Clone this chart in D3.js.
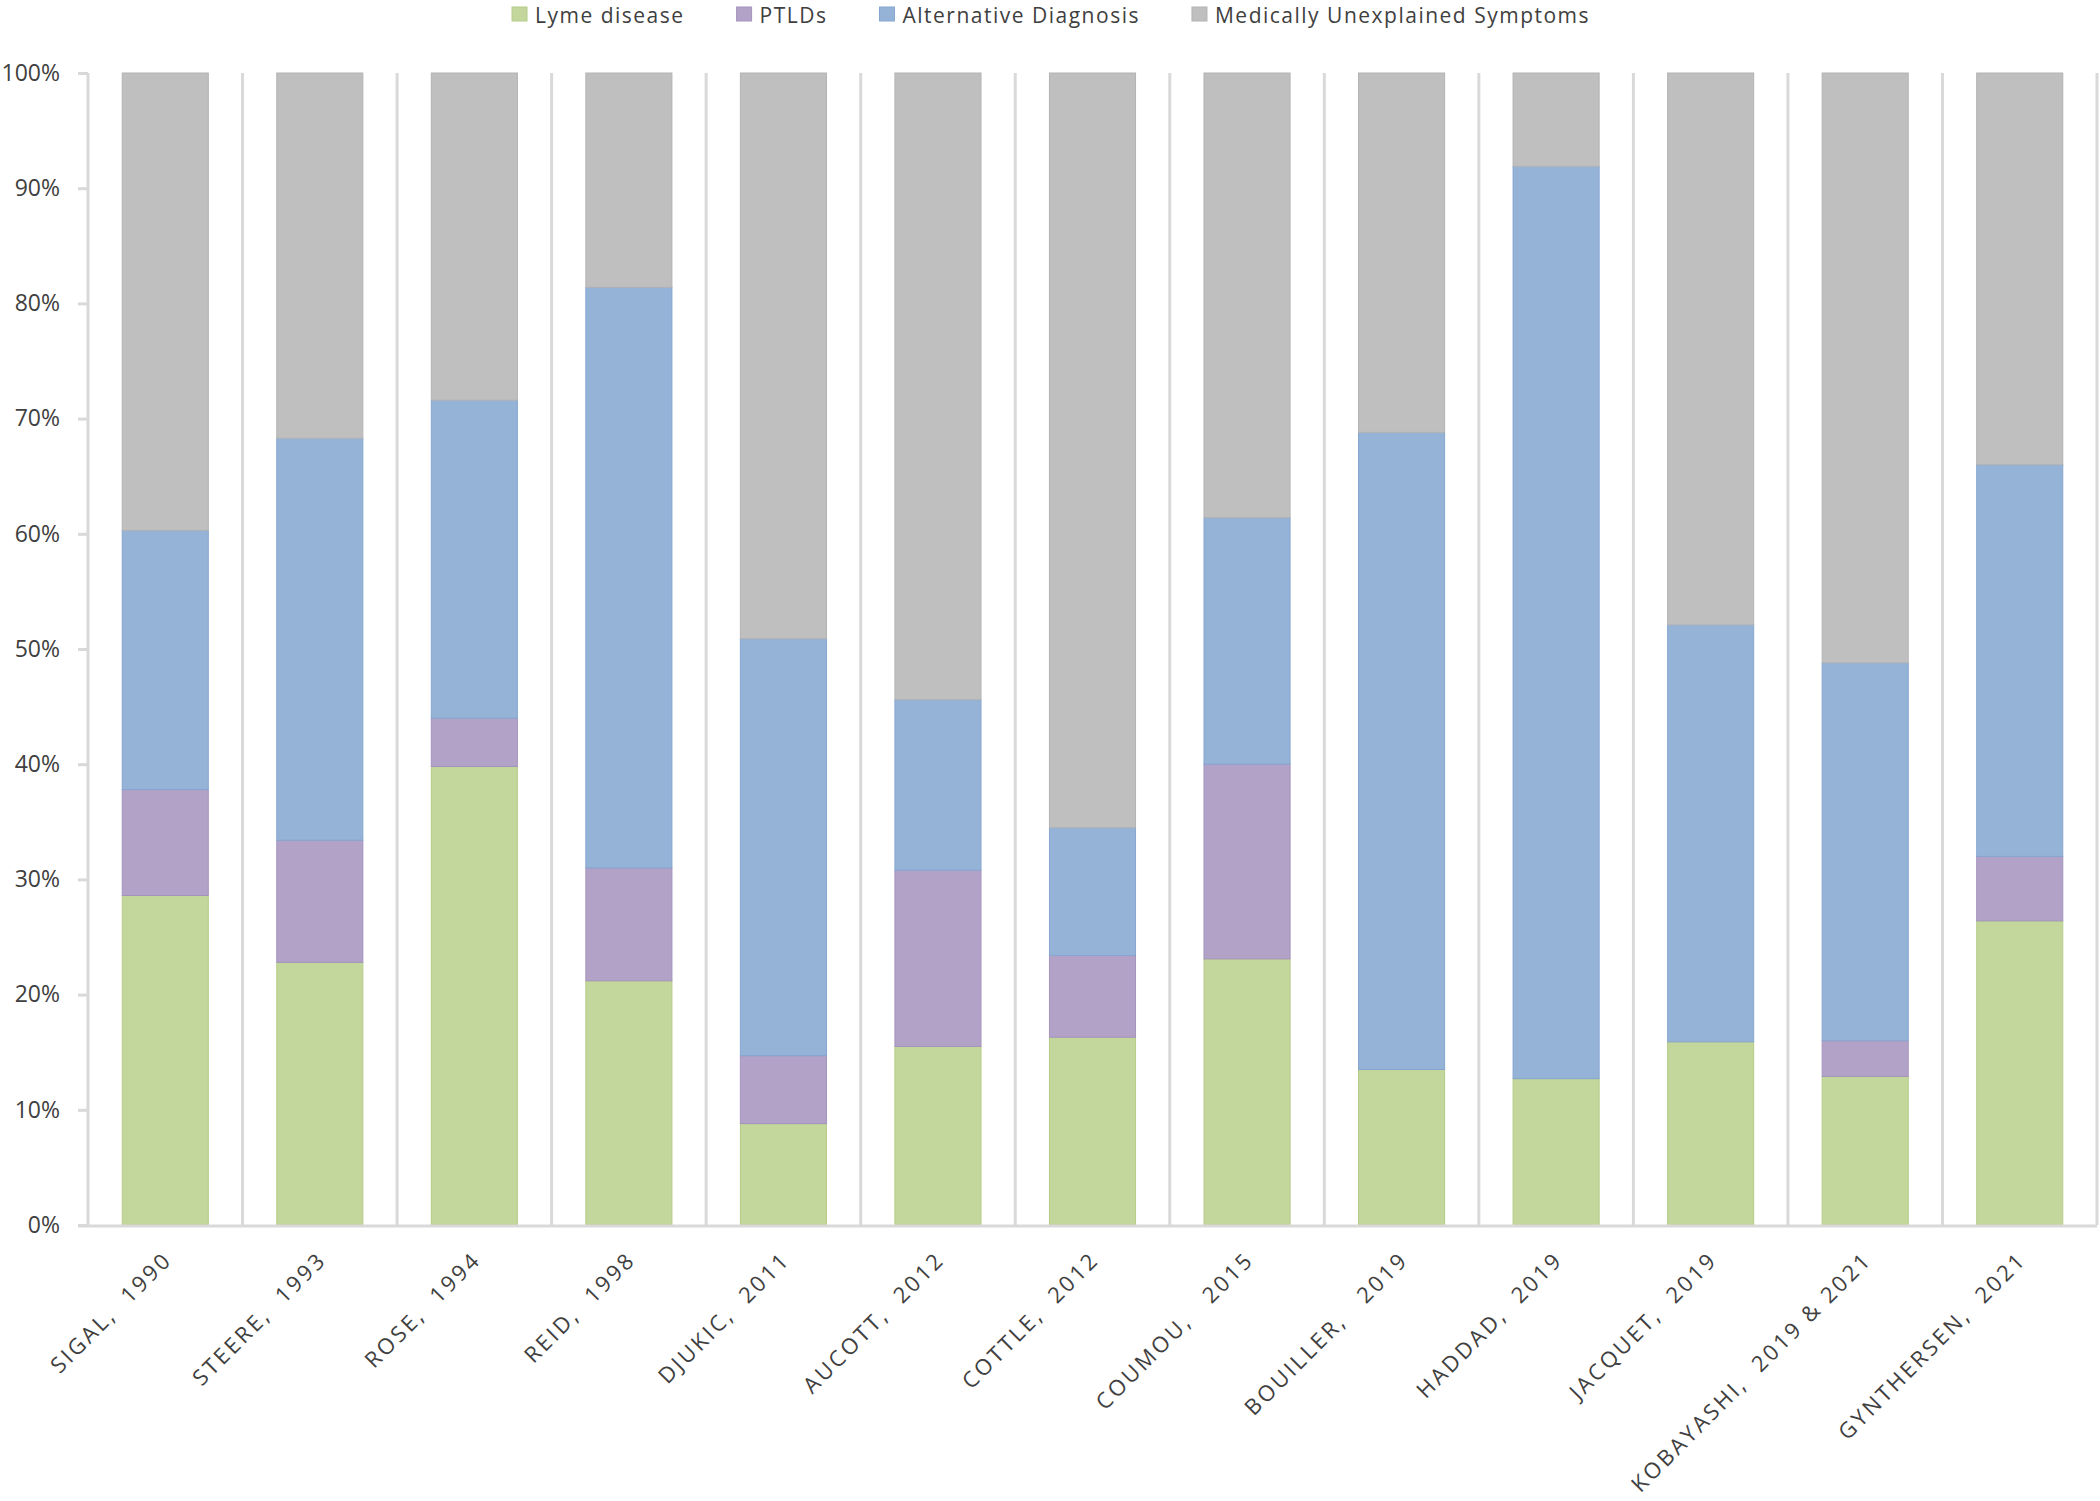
<!DOCTYPE html>
<html>
<head>
<meta charset="utf-8">
<script src="https://cdn.jsdelivr.net/npm/d3@7"></script>
<style>
  html, body { margin: 0; padding: 0; background: #ffffff; }
  svg { display: block; }
  text { font-family: "Open Sans", "Noto Sans", sans-serif; fill: #404040; }
</style>
</head>
<body>
<svg id="chart" width="2100" height="1501"></svg>
<script>
// ---- Data (percent of patients per study) ----
const categories = [
  "SIGAL,  1990", "STEERE,  1993", "ROSE,  1994", "REID,  1998",
  "DJUKIC,  2011", "AUCOTT,  2012", "COTTLE,  2012", "COUMOU,   2015",
  "BOUILLER,   2019", "HADDAD,  2019", "JACQUET,  2019",
  "KOBAYASHI,  2019 & 2021", "GYNTHERSEN,  2021"
];
const seriesNames = ["Lyme disease", "PTLDs", "Alternative Diagnosis", "Medically Unexplained Symptoms"];
const lymeDisease = [28.6, 22.8, 39.8, 21.2, 8.8, 15.5, 16.3, 23.1, 13.5, 12.7, 15.9, 12.9, 26.4];
const ptlds       = [9.2, 10.6, 4.2, 9.8, 5.9, 15.3, 7.1, 16.9, 0, 0, 0, 3.1, 5.6];
const altDiag     = [22.5, 34.9, 27.6, 50.4, 36.2, 14.8, 11.1, 21.4, 55.3, 79.2, 36.2, 32.8, 34.0];
const unexplained = [39.7, 31.7, 28.4, 18.6, 49.1, 54.4, 65.5, 38.6, 31.2, 8.1, 47.9, 51.2, 34.0];
const yTicks = [0, 10, 20, 30, 40, 50, 60, 70, 80, 90, 100];
const colors = ["#c3d69b", "#b2a2c7", "#95b3d7", "#bfbfbf"];
const strokes = ["#b5cc88", "#a493bd", "#85a6d0", "#b3b3b3"];

(function () {
  const seriesValues = [lymeDisease, ptlds, altDiag, unexplained];
  const table = categories.map((c, i) => {
    const row = { cat: c };
    seriesNames.forEach((s, k) => { row[s] = seriesValues[k][i]; });
    return row;
  });

  const svg = d3.select("#chart");
  const mLeft = 88, mRight = 2097, mTop = 73, mBottom = 1225;
  const gridColor = "#d9d9d9";

  const x = d3.scaleBand().domain(categories).range([mLeft, mRight]).paddingInner(0.443).paddingOuter(0.2215);
  const xb = d3.scaleBand().domain(categories).range([mLeft, mRight]).padding(0);
  const y = d3.scaleLinear().domain([0, 100]).range([mBottom, mTop]);

  // vertical separators between categories
  svg.append("g").selectAll("line")
    .data(categories)
    .join("line")
    .attr("x1", d => xb(d) + xb.bandwidth())
    .attr("x2", d => xb(d) + xb.bandwidth())
    .attr("y1", y(100))
    .attr("y2", y(0))
    .attr("stroke", gridColor)
    .attr("stroke-width", 3);

  // stacked bars
  const stacked = d3.stack().keys(seriesNames)(table);
  svg.append("g").selectAll("g")
    .data(stacked)
    .join("g")
    .attr("fill", (d, k) => colors[k])
    .attr("stroke", (d, k) => strokes[k])
    .attr("stroke-width", 1)
    .selectAll("rect")
    .data(d => d.filter(p => p[1] - p[0] > 0))
    .join("rect")
    .attr("x", p => x(p.data.cat))
    .attr("width", x.bandwidth())
    .attr("y", p => y(p[1]))
    .attr("height", p => y(p[0]) - y(p[1]));

  // Y axis
  const yAxis = d3.axisLeft(y)
    .tickValues(yTicks)
    .tickSize(10)
    .tickPadding(18)
    .tickFormat(d => d + "%");
  const gy = svg.append("g").attr("transform", `translate(${mLeft},0)`).call(yAxis);
  gy.select(".domain").attr("stroke", gridColor).attr("stroke-width", 3).attr("d", `M0,${y(100)}V${y(0)}`);
  gy.selectAll(".tick line").attr("stroke", gridColor).attr("stroke-width", 3);
  gy.selectAll(".tick text")
    .attr("fill", "#404040")
    .style("font-family", "'Open Sans', sans-serif")
    .style("font-size", "23px");

  // baseline
  svg.append("line")
    .attr("x1", mLeft - 10).attr("x2", mRight)
    .attr("y1", y(0) + 1).attr("y2", y(0) + 1)
    .attr("stroke", gridColor).attr("stroke-width", 3);

  // X labels
  const xAxis = d3.axisBottom(xb).tickSize(0).tickPadding(0);
  const gx = svg.append("g").attr("transform", `translate(0,${mBottom})`).call(xAxis);
  gx.select(".domain").remove();
  gx.selectAll(".tick text")
    .attr("text-anchor", "end")
    .attr("x", 0).attr("y", 0).attr("dy", 0)
    .attr("transform", "translate(8,36) rotate(-45)")
    .attr("fill", "#404040")
    .style("font-family", "'Open Sans', sans-serif")
    .style("font-size", "22px")
    .style("letter-spacing", "2.8px")
    .style("white-space", "pre");

  // Legend
  const legend = svg.append("g").attr("class", "legend");
  let lx = 512;
  seriesNames.forEach((s, k) => {
    const g = legend.append("g").attr("transform", `translate(${lx},0)`);
    g.append("rect").attr("x", 0).attr("y", 7).attr("width", 15).attr("height", 14)
      .attr("fill", colors[k]).attr("stroke", strokes[k]).attr("stroke-width", 1);
    const t = g.append("text").attr("x", 23).attr("y", 23)
      .style("font-size", "21px").style("letter-spacing", "1.5px")
      .attr("fill", "#404040").text(s);
    const w = t.node().getComputedTextLength();
    lx += 23 + w + 52;
  });
})();
</script>
</body>
</html>
